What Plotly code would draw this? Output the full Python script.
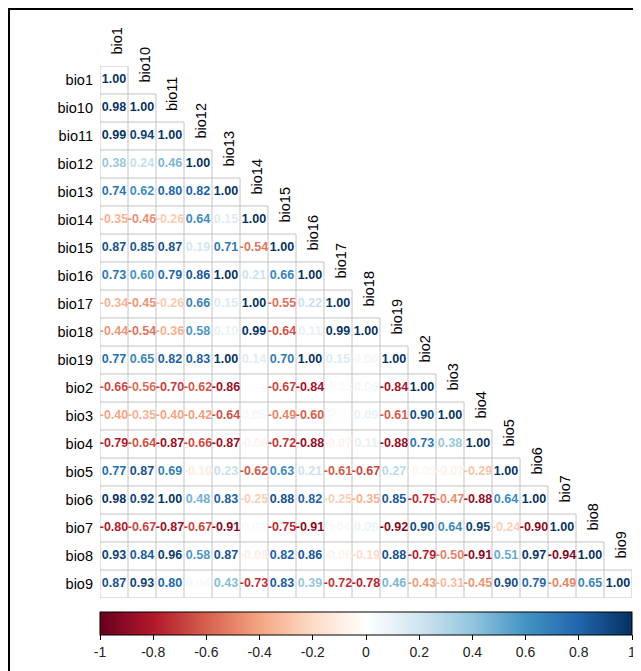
import plotly.graph_objects as go

labels = ["bio1", "bio10", "bio11", "bio12", "bio13", "bio14", "bio15", "bio16", "bio17",
          "bio18", "bio19", "bio2", "bio3", "bio4", "bio5", "bio6", "bio7", "bio8", "bio9"]

r_bio1 = [1.00]
r_bio10 = [0.98, 1.00]
r_bio11 = [0.99, 0.94, 1.00]
r_bio12 = [0.38, 0.24, 0.46, 1.00]
r_bio13 = [0.74, 0.62, 0.80, 0.82, 1.00]
r_bio14 = [-0.35, -0.46, -0.26, 0.64, 0.15, 1.00]
r_bio15 = [0.87, 0.85, 0.87, 0.19, 0.71, -0.54, 1.00]
r_bio16 = [0.73, 0.60, 0.79, 0.86, 1.00, 0.21, 0.66, 1.00]
r_bio17 = [-0.34, -0.45, -0.26, 0.66, 0.15, 1.00, -0.55, 0.22, 1.00]
r_bio18 = [-0.44, -0.54, -0.36, 0.58, 0.10, 0.99, -0.64, 0.11, 0.99, 1.00]
r_bio19 = [0.77, 0.65, 0.82, 0.83, 1.00, 0.14, 0.70, 1.00, 0.15, 0.06, 1.00]
r_bio2 = [-0.66, -0.56, -0.70, -0.62, -0.86, 0.01, -0.67, -0.84, -0.03, 0.06, -0.84, 1.00]
r_bio3 = [-0.40, -0.35, -0.40, -0.42, -0.64, 0.05, -0.49, -0.60, 0.01, 0.09, -0.61, 0.90, 1.00]
r_bio4 = [-0.79, -0.64, -0.87, -0.66, -0.87, -0.06, -0.72, -0.88, -0.07, 0.11, -0.88, 0.73, 0.38, 1.00]
r_bio5 = [0.77, 0.87, 0.69, -0.10, 0.23, -0.62, 0.63, 0.21, -0.61, -0.67, 0.27, -0.05, -0.07, -0.29, 1.00]
r_bio6 = [0.98, 0.92, 1.00, 0.48, 0.83, -0.25, 0.88, 0.82, -0.25, -0.35, 0.85, -0.75, -0.47, -0.88, 0.64, 1.00]
r_bio7 = [-0.80, -0.67, -0.87, -0.67, -0.91, 0.03, -0.75, -0.91, 0.04, 0.08, -0.92, 0.90, 0.64, 0.95, -0.24, -0.90, 1.00]
r_bio8 = [0.93, 0.84, 0.96, 0.58, 0.87, -0.08, 0.82, 0.86, -0.06, -0.19, 0.88, -0.79, -0.50, -0.91, 0.51, 0.97, -0.94, 1.00]
r_bio9 = [0.87, 0.93, 0.80, 0.04, 0.43, -0.73, 0.83, 0.39, -0.72, -0.78, 0.46, -0.43, -0.31, -0.45, 0.90, 0.79, -0.49, 0.65, 1.00]

rows = [r_bio1, r_bio10, r_bio11, r_bio12, r_bio13, r_bio14, r_bio15, r_bio16, r_bio17, r_bio18,
        r_bio19, r_bio2, r_bio3, r_bio4, r_bio5, r_bio6, r_bio7, r_bio8, r_bio9]

colorbar_ticks = [-1, -0.8, -0.6, -0.4, -0.2, 0, 0.2, 0.4, 0.6, 0.8, 1]
colorbar_ticktext = ["-1", "-0.8", "-0.6", "-0.4", "-0.2", "0", "0.2", "0.4", "0.6", "0.8", "1"]

palette = ["#67001F", "#B2182B", "#D6604D", "#F4A582", "#FDDBC7", "#FFFFFF",
           "#D1E5F0", "#92C5DE", "#4393C3", "#2166AC", "#053061"]
colorscale = [[i / 10, c] for i, c in enumerate(palette)]


def hex2rgb(h):
    h = h.lstrip("#")
    return tuple(int(h[i:i + 2], 16) for i in (0, 2, 4))


def val_color(v):
    t = (v + 1) / 2 * 10
    i = min(int(t), 9)
    f = t - i
    a = hex2rgb(palette[i])
    b = hex2rgb(palette[i + 1])
    c = [round(a[k] + (b[k] - a[k]) * f) for k in range(3)]
    return "rgb(%d,%d,%d)" % tuple(c)


xs, ys, vals, texts, cols = [], [], [], [], []
for i, row in enumerate(rows):
    for j, v in enumerate(row):
        xs.append(j)
        ys.append(i)
        vals.append(v)
        texts.append("%.2f" % v)
        cols.append(val_color(v))

n = len(labels)
# cell borders for lower triangle
gx, gy = [], []
for k in range(n):
    gx += [-0.5, k + 0.5, None]
    gy += [k - 0.5, k - 0.5, None]
gx += [-0.5, n - 0.5, None]
gy += [n - 0.5, n - 0.5, None]
gx += [-0.5, -0.5, None]
gy += [-0.5, n - 0.5, None]
for j in range(n):
    gx += [j + 0.5, j + 0.5, None]
    gy += [j - 0.5, n - 0.5, None]

fig = go.Figure()
fig.add_trace(go.Scatter(x=gx, y=gy, mode="lines", line=dict(color="#C4C4C4", width=1),
                         hoverinfo="skip", showlegend=False))
fig.add_trace(go.Scatter(
    x=xs, y=ys, mode="markers+text", text=texts,
    textfont=dict(family="Liberation Sans, Arial", size=12.5, color=cols, weight="bold"),
    textposition="middle center",
    marker=dict(size=1, opacity=0, color=vals, colorscale=colorscale, cmin=-1, cmax=1,
                showscale=True,
                colorbar=dict(orientation="h", x=0, xanchor="left", y=-14 / 532, yanchor="top",
                              len=532, lenmode="pixels", thickness=23, thicknessmode="pixels",
                              xpad=0, ypad=0, tickvals=colorbar_ticks, ticktext=colorbar_ticktext,
                              ticks="outside", ticklen=5, tickcolor="black", tickwidth=1,
                              outlinewidth=1, outlinecolor="black",
                              tickfont=dict(family="Liberation Sans, Arial", size=14, color="#222"))),
    showlegend=False, hoverinfo="skip"))

for j, lab in enumerate(labels):
    fig.add_annotation(x=j, y=j - 0.5, text=lab, textangle=-90, showarrow=False,
                       xanchor="center", yanchor="bottom", yshift=9, xshift=2,
                       font=dict(family="Liberation Sans, Arial", size=14.5, color="black"))

fig.add_shape(type="rect", xref="paper", yref="paper",
              x0=(1 - 92) / 532, x1=(640 - 92) / 532, y0=(590 - 670) / 532, y1=(590 - 1) / 532,
              line=dict(color="black", width=2), layer="above")

fig.update_layout(
    width=641, height=671,
    margin=dict(l=92, r=17, t=58, b=81, autoexpand=False),
    paper_bgcolor="white", plot_bgcolor="white",
    xaxis=dict(range=[-0.5, n - 0.5], visible=False, fixedrange=True),
    yaxis=dict(range=[n - 0.5, -0.5], tickmode="array", tickvals=list(range(n)), ticktext=labels,
               showgrid=False, zeroline=False, showline=False, ticks="",
               ticklabelstandoff=6, fixedrange=True,
               tickfont=dict(family="Liberation Sans, Arial", size=14.5, color="black")),
)

fig.write_html("out.html")
